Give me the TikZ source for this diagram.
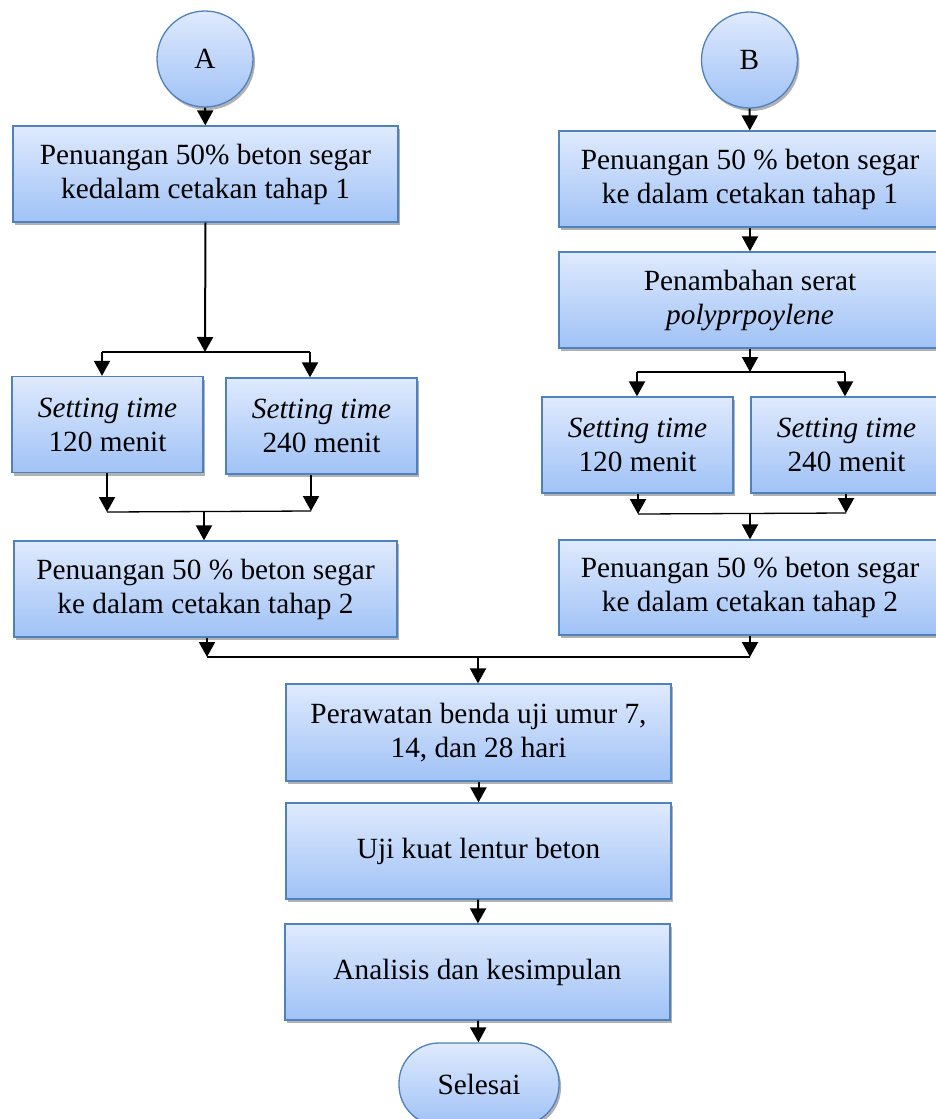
\documentclass[tikz,border=0pt]{standalone}
\usepackage{fontspec}
\setmainfont{Liberation Serif}
\usetikzlibrary{arrows.meta,shadows,calc}
\definecolor{boxtop}{RGB}{223,234,253}
\definecolor{boxbot}{RGB}{160,194,246}
\definecolor{boxline}{RGB}{79,129,189}
\tikzset{
  base/.style={draw=boxline, line width=1.3pt, top color=boxtop, bottom color=boxbot,
    align=center, inner sep=0pt,
    font=\fontsize{29.3}{34}\selectfont,
    drop shadow={shadow xshift=2pt, shadow yshift=-3pt, fill=black, opacity=0.3}},
  procbox/.style={base, rectangle, minimum width=#1, minimum height=96pt},
  procbox/.default=385pt,
  conn/.style={base, circle, minimum size=96pt},
  term/.style={base, rectangle, rounded corners=40pt, minimum width=160pt, minimum height=82pt},
  arr/.style={line width=2pt, -{Triangle[width=16pt,length=15pt]}},
  hline/.style={line width=1.3pt},
}
\begin{document}
\begin{tikzpicture}[x=1pt,y=-1pt]
\useasboundingbox (0,0) rectangle (935,1119);
% column A
\node[conn] (A) at (205,59) {A};
\node[procbox=385pt] (A1) at (205.5,174) {Penuangan 50\% beton segar\\kedalam cetakan tahap 1};
\node[procbox=191pt] (SA1) at (107.5,424.5) {\textit{Setting time}\\120 menit};
\node[procbox=191pt] (SA2) at (321.5,426) {\textit{Setting time}\\240 menit};
\node[procbox=383pt] (A3) at (205.5,589) {Penuangan 50 \% beton segar\\ke dalam cetakan tahap 2};
% column B
\node[conn] (B) at (749.5,60) {B};
\node[procbox=382pt] (B1) at (750,179) {Penuangan 50 \% beton segar\\ke dalam cetakan tahap 1};
\node[procbox=382pt] (B2) at (750,300) {Penambahan serat\\\textit{polyprpoylene}};
\node[procbox=191pt] (SB1) at (637.5,445) {\textit{Setting time}\\120 menit};
\node[procbox=191pt] (SB2) at (846.5,445) {\textit{Setting time}\\240 menit};
\node[procbox=382pt, minimum height=95pt] (B3) at (750,587.5) {Penuangan 50 \% beton segar\\ke dalam cetakan tahap 2};
% center column
\node[procbox=385pt, minimum height=97pt] (C1) at (478.5,732.5) {Perawatan benda uji umur 7,\\14, dan 28 hari};
\node[procbox=385pt] (C2) at (478.5,851) {Uji kuat lentur beton};
\node[procbox=385pt] (C3) at (477.5,972) {Analisis dan kesimpulan};
\node[term] (E) at (479,1084) {Selesai};
% junction coordinates
\coordinate (jaC) at (205,352);
\coordinate (jaL) at (102,352);
\coordinate (jaR) at (310,352);
\coordinate (jbL) at (107,512);
\coordinate (jbR) at (311,511);
\coordinate (jbC) at (204,512);
\coordinate (jcC) at (750,372);
\coordinate (jcL) at (637,372);
\coordinate (jcR) at (845,372);
\coordinate (jdL) at (638,514);
\coordinate (jdR) at (846,513);
\coordinate (jdC) at (750,514);
\coordinate (jeL) at (207,657);
\coordinate (jeR) at (750,657);
\coordinate (jeC) at (478,657);
% connectors A
\draw[arr] (A) -- (A1);
\draw[arr] (A1.south) -- (jaC);
\draw[hline] (jaL) -- (jaR);
\draw[arr] (jaL) -- (jaL |- SA1.north);
\draw[arr] (jaR) -- (jaR |- SA2.north);
\draw[arr] (jbL |- SA1.south) -- (jbL);
\draw[arr] (jbR |- SA2.south) -- (jbR);
\draw[hline] (jbL) -- (jbR);
\draw[arr] (jbC) -- (jbC |- A3.north);
\draw[arr] (jeL |- A3.south) -- (jeL);
% connectors B
\draw[arr] (B) -- (B1);
\draw[arr] (B1) -- (B2);
\draw[arr] (B2.south) -- (jcC);
\draw[hline] (jcL) -- (jcR);
\draw[arr] (jcL) -- (jcL |- SB1.north);
\draw[arr] (jcR) -- (jcR |- SB2.north);
\draw[arr] (jdL |- SB1.south) -- (jdL);
\draw[arr] (jdR |- SB2.south) -- (jdR);
\draw[hline] (jdL) -- (jdR);
\draw[arr] (jdC) -- (jdC |- B3.north);
\draw[arr] (jeR |- B3.south) -- (jeR);
% merge
\draw[hline] (jeL) -- (jeR);
\draw[arr] (jeC) -- (jeC |- C1.north);
\draw[arr] (C1) -- (C2);
\draw[arr] (C2) -- (C3);
\draw[arr] (C3) -- (E);
\end{tikzpicture}
\end{document}
